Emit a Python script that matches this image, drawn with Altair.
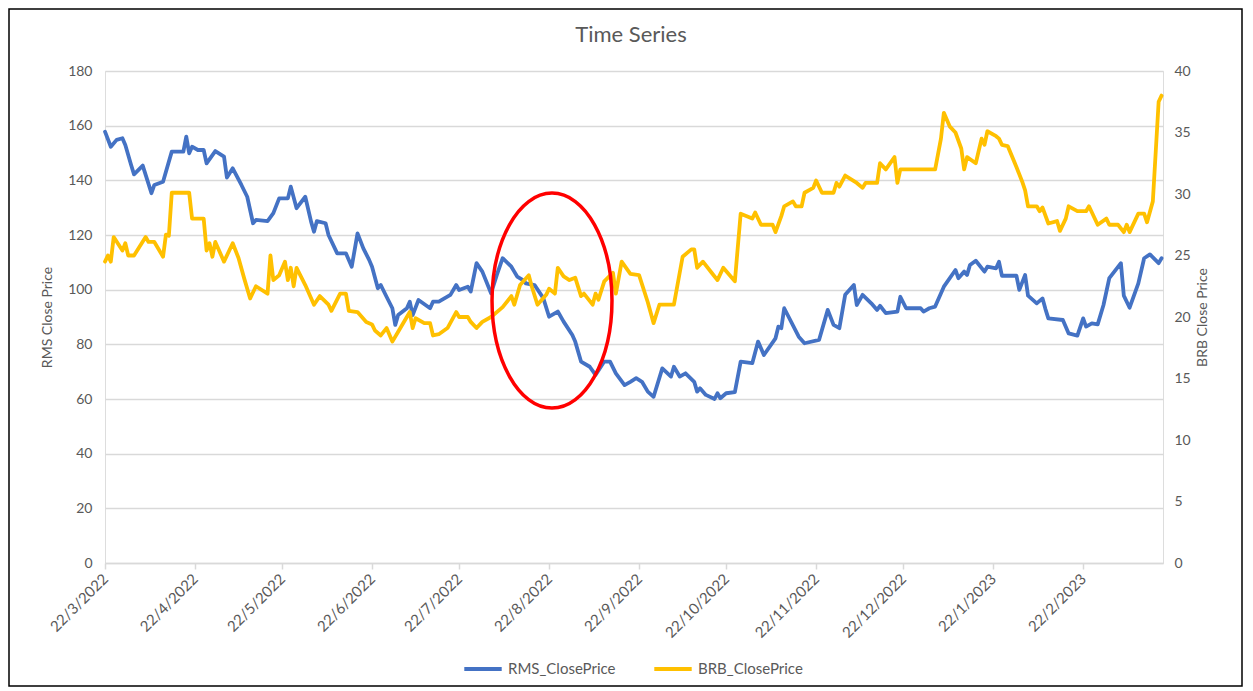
import altair as alt
import pandas as pd

# ---------------- data ----------------
START = "2022-03-22"  # first trading day; day offsets below are counted from it
TITLE = "Time Series"

RMS_DAY = [0, 2, 4, 6, 7, 9, 10, 13, 16, 17, 20, 23, 27, 28, 29, 30, 32, 34, 35, 38,
           41, 42, 44, 47, 49, 51, 52, 56, 58, 60, 63, 64, 66, 69, 71, 72, 73, 76, 77, 80,
           83, 85, 87, 89, 91, 92, 94, 95, 97, 99, 100, 101, 104, 105, 106, 108, 112, 113, 115, 119,
           121, 122, 125, 126, 128, 130, 133, 135, 137, 140, 141, 142, 144, 145, 148, 151, 153, 156, 158, 161,
           162, 164, 167, 169, 172, 174, 176, 179, 181, 183, 185, 187, 189, 192, 195, 196, 198, 200, 203, 204,
           205, 207, 210, 211, 212, 214, 217, 219, 223, 225, 227, 231, 232, 233, 234, 239, 241, 246, 249, 251,
           253, 255, 258, 259, 261, 264, 266, 267, 269, 273, 274, 276, 281, 282, 284, 286, 289, 293, 294, 296,
           297, 298, 300, 303, 304, 307, 308, 309, 314, 315, 317, 318, 321, 323, 324, 325, 330, 332, 335, 337,
           338, 340, 342, 344, 346, 350, 351, 353, 356, 358, 360, 363, 364]
RMS_CLOSE = [157.8, 152.3, 154.8, 155.4, 152.9, 145.6, 142.2, 145.4, 135.3, 138.3, 139.5, 150.5, 150.5, 156.0, 149.9, 152.3, 151.1, 151.1, 146.2, 150.7,
             148.7, 141.0, 144.4, 138.3, 134.0, 124.3, 125.5, 125.1, 128.0, 133.4, 133.4, 137.7, 129.8, 134.0, 124.9, 121.2, 125.1, 124.3, 120.0, 113.3,
             113.3, 108.4, 120.6, 115.1, 110.9, 108.4, 100.5, 101.7, 97.4, 93.2, 87.1, 90.7, 93.2, 95.6, 90.7, 96.2, 93.2, 95.6, 95.6, 98.1,
             101.7, 99.9, 101.1, 99.3, 109.7, 106.6, 98.7, 105.4, 111.5, 108.4, 106.6, 104.8, 103.5, 102.3, 101.7, 96.9, 90.1, 92.0, 88.3, 83.4,
             81.0, 73.7, 71.8, 68.8, 73.7, 73.7, 69.4, 65.1, 66.3, 67.6, 66.3, 62.7, 60.8, 71.2, 68.2, 71.8, 68.2, 69.4, 66.3, 62.7,
             63.9, 61.5, 60.0, 62.1, 60.3, 62.1, 62.5, 73.7, 73.1, 81.0, 76.1, 82.2, 86.5, 85.9, 93.2, 82.8, 80.4, 81.6, 92.6, 87.1,
             85.9, 98.1, 101.7, 94.4, 98.1, 95.0, 92.6, 94.1, 91.4, 92.0, 97.4, 93.2, 93.2, 92.0, 93.2, 93.8, 101.1, 107.2, 104.2, 106.6,
             105.4, 109.0, 110.6, 106.6, 108.4, 107.8, 110.2, 105.1, 105.1, 99.9, 105.4, 97.8, 95.0, 96.8, 92.9, 89.5, 88.9, 84.0, 83.2, 89.5,
             86.5, 87.7, 87.3, 94.4, 104.2, 109.7, 97.8, 93.4, 102.3, 111.5, 112.9, 109.7, 111.5]

BRB_DAY = [0, 1, 2, 3, 6, 7, 8, 10, 14, 15, 17, 20, 21, 22, 23, 29, 30, 34, 35, 36,
           37, 38, 41, 44, 46, 48, 50, 52, 56, 57, 58, 60, 62, 63, 64, 65, 66, 69, 72, 74,
           77, 78, 81, 83, 84, 87, 90, 92, 93, 95, 97, 99, 101, 105, 106, 107, 110, 112, 113, 115,
           118, 121, 122, 125, 126, 128, 130, 133, 137, 140, 141, 143, 146, 147, 149, 152, 153, 155, 156, 158,
           160, 162, 164, 165, 168, 169, 170, 172, 175, 176, 178, 181, 184, 187, 189, 191, 196, 199, 202, 203,
           204, 206, 209, 211, 213, 217, 219, 223, 224, 226, 230, 231, 233, 234, 237, 238, 240, 241, 244, 245,
           247, 251, 252, 253, 255, 259, 261, 262, 266, 267, 269, 272, 273, 274, 286, 288, 289, 291, 293, 295,
           296, 297, 300, 302, 303, 304, 307, 308, 309, 311, 314, 316, 317, 318, 321, 322, 323, 325, 328, 329,
           331, 332, 335, 338, 339, 342, 345, 346, 349, 351, 352, 353, 356, 358, 359, 361, 363, 364]
BRB_CLOSE = [24.5, 25.0, 24.5, 26.5, 25.4, 26.0, 25.0, 25.0, 26.5, 26.1, 26.1, 24.9, 26.7, 26.6, 30.1, 30.1, 28.0, 28.0, 25.4, 26.0,
             24.9, 26.1, 24.5, 26.0, 24.8, 23.1, 21.5, 22.5, 21.9, 25.0, 23.0, 23.4, 24.5, 23.0, 24.0, 22.5, 24.0, 22.6, 21.0, 21.7,
             21.0, 20.5, 21.9, 21.9, 20.5, 20.4, 19.6, 19.4, 18.9, 18.5, 19.1, 18.0, 18.8, 20.4, 19.1, 19.9, 19.5, 19.5, 18.5, 18.6,
             19.1, 20.4, 20.0, 20.0, 19.6, 19.1, 19.6, 20.0, 20.8, 21.7, 21.0, 22.6, 23.4, 22.5, 21.0, 21.8, 22.3, 21.9, 24.0, 23.3,
             23.0, 23.2, 21.7, 21.9, 21.0, 21.9, 21.4, 22.9, 23.6, 21.9, 24.5, 23.5, 23.4, 21.2, 19.5, 21.0, 21.0, 24.9, 25.5, 25.5,
             24.0, 24.5, 23.6, 23.0, 24.0, 22.9, 28.4, 28.0, 28.5, 27.5, 27.5, 26.9, 28.2, 29.0, 29.4, 29.0, 29.0, 30.1, 30.5, 31.1,
             30.1, 30.1, 30.9, 30.6, 31.5, 30.9, 30.5, 30.9, 30.9, 32.5, 32.0, 33.0, 30.9, 32.0, 32.0, 34.5, 36.6, 35.5, 35.0, 33.7,
             32.0, 33.0, 32.5, 34.5, 34.0, 35.1, 34.7, 34.5, 34.0, 33.9, 32.2, 31.0, 30.3, 29.0, 29.0, 28.6, 28.9, 27.6, 27.8, 27.0,
             28.0, 29.0, 28.6, 28.6, 29.0, 27.5, 28.0, 27.5, 27.5, 26.9, 27.5, 26.9, 28.4, 28.4, 27.7, 29.4, 37.5, 38.0]

SERIES = ["RMS_ClosePrice", "BRB_ClosePrice"]
COLORS = ["#4472C4", "#FFC000"]
X_TICKS = ["2022-03-22", "2022-04-22", "2022-05-22", "2022-06-22", "2022-07-22", "2022-08-22",
           "2022-09-22", "2022-10-22", "2022-11-22", "2022-12-22", "2023-01-22", "2023-02-22"]
X_END = "2023-03-21T12:00:00"
RMS_TICKS = [0, 20, 40, 60, 80, 100, 120, 140, 160, 180]
BRB_TICKS = [0, 5, 10, 15, 20, 25, 30, 35, 40]
ANNOT_DAY = 154      # centre of the red ellipse (about 23/8/2022)
ANNOT_RMS = 96       # centre of the red ellipse on the RMS scale

# ---------------- build tables ----------------
start = pd.Timestamp(START)


def to_dates(days):
    return [(start + pd.Timedelta(days=d)).strftime("%Y-%m-%dT00:00:00") for d in days]


df = pd.concat([
    pd.DataFrame({"date": to_dates(RMS_DAY), "series": SERIES[0], "value": RMS_CLOSE}),
    pd.DataFrame({"date": to_dates(BRB_DAY), "series": SERIES[1], "value": BRB_CLOSE}),
], ignore_index=True)

annot = pd.DataFrame({"date": to_dates([ANNOT_DAY]), "value": [ANNOT_RMS]})
frame = pd.DataFrame({"k": [0]})
title_df = pd.DataFrame({"t": [TITLE]})


def dt(s):
    t = pd.Timestamp(s)
    return alt.DateTime(year=t.year, month=t.month, date=t.day, hours=t.hour)


x_scale = alt.Scale(domain=[dt(START), dt(X_END)])
color_scale = alt.Scale(domain=SERIES, range=COLORS)

FONT = "Lato"
GREY = "#595959"
GRID = "#d9d9d9"

legend = alt.Legend(
    title=None, orient="none", direction="horizontal", legendX=357, legendY=577,
    symbolType="stroke", symbolStrokeWidth=4, symbolSize=1400, labelFontSize=15,
    labelColor=GREY, labelFont=FONT, columnPadding=30, padding=0, symbolOffset=0,
)

x_axis = alt.Axis(
    values=[dt(s) for s in X_TICKS], format="%-d/%-m/%Y", labelAngle=315, labelAlign="right",
    labelBaseline="middle", labelFontSize=15, labelColor=GREY, labelFont=FONT, labelPadding=7,
    grid=False, domainColor=GRID, domainWidth=1.5, tickColor=GRID, tickWidth=1.5, tickSize=6,
    title=None, labelOverlap=False,
)

base = alt.Chart(df)

rms = base.transform_filter(alt.datum.series == SERIES[0]).mark_line(
    strokeWidth=3.8, strokeJoin="round", strokeCap="round"
).encode(
    x=alt.X("date:T", scale=x_scale, axis=x_axis),
    y=alt.Y("value:Q", scale=alt.Scale(domain=[0, 180], nice=False),
            axis=alt.Axis(values=RMS_TICKS, title="RMS Close Price", orient="left", grid=True,
                          gridColor=GRID, gridWidth=1.5, domain=False, ticks=False,
                          labelFontSize=14, labelColor=GREY, labelFont=FONT, labelPadding=13,
                          titleFontSize=14, titleColor=GREY, titleFont=FONT, titleFontWeight="normal",
                          titlePadding=13)),
    color=alt.Color("series:N", scale=color_scale, legend=legend),
)

brb = base.transform_filter(alt.datum.series == SERIES[1]).mark_line(
    strokeWidth=3.8, strokeJoin="round", strokeCap="round"
).encode(
    x=alt.X("date:T", scale=x_scale, axis=x_axis),
    y=alt.Y("value:Q", scale=alt.Scale(domain=[0, 40], nice=False),
            axis=alt.Axis(values=BRB_TICKS, title="BRB Close Price", orient="right", grid=False,
                          domain=False, ticks=False, labelFontSize=14, labelColor=GREY, labelFont=FONT,
                          labelPadding=11, titleFontSize=14, titleColor=GREY, titleFont=FONT,
                          titleFontWeight="normal", titlePadding=19, titleAngle=270)),
    color=alt.Color("series:N", scale=color_scale, legend=legend),
)

ELLIPSE = "M 0 -1 A 0.558 1 0 1 1 0 1 A 0.558 1 0 1 1 0 -1 Z"
ellipse = alt.Chart(annot).mark_point(
    shape=ELLIPSE, size=46225, filled=False, stroke="#FF0000", strokeWidth=3.5, opacity=1
).encode(
    x=alt.X("date:T", scale=x_scale, axis=x_axis),
    y=alt.Y("value:Q", scale=alt.Scale(domain=[0, 180], nice=False), axis=None),
)

border = alt.Chart(frame).mark_rect(fillOpacity=0, stroke="#000000", strokeWidth=1.5).encode(
    x=alt.value(-96), x2=alt.value(1137), y=alt.value(-62), y2=alt.value(615)
)

title = alt.Chart(title_df).mark_text(
    fontSize=22, font=FONT, color=GREY, align="center", baseline="middle"
).encode(text="t:N", x=alt.value(526), y=alt.value(-36))

chart = alt.layer(rms, brb, ellipse, border, title).resolve_scale(
    y="independent", color="shared"
).properties(
    width=1058, height=492,
    autosize=alt.AutoSizeParams(type="none"),
    padding={"left": 97, "top": 63, "right": 80, "bottom": 125},
).configure_view(stroke=None).configure(background="white")

chart.save("out.html", embed_options={"renderer": "svg", "actions": False})
